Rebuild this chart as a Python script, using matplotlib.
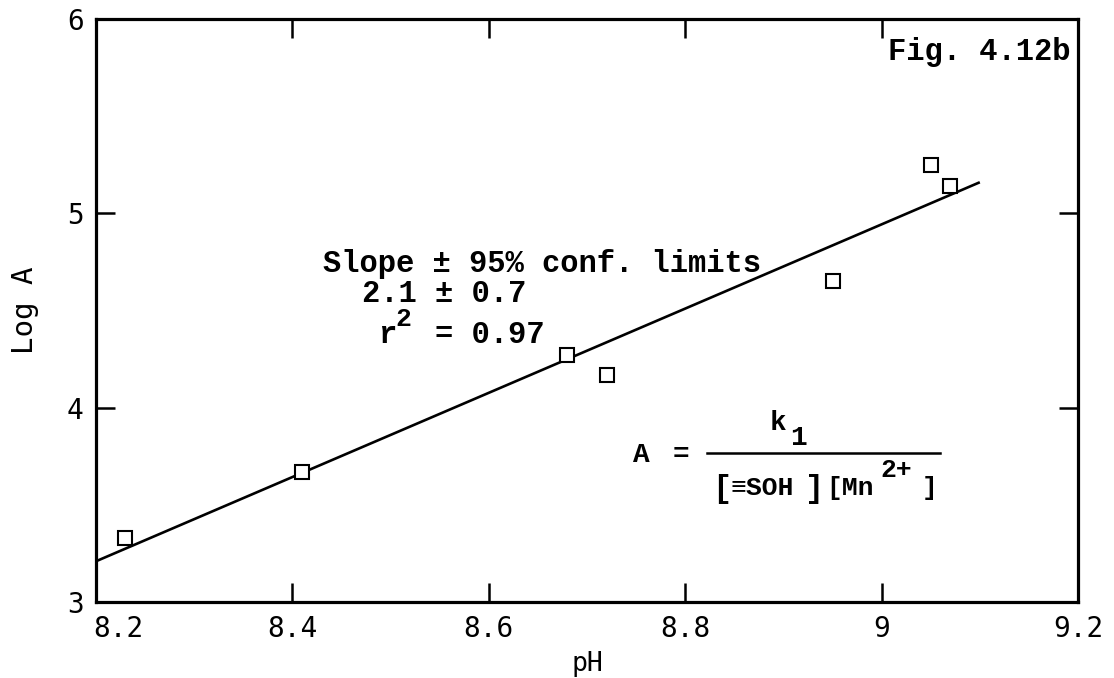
import matplotlib
matplotlib.use("Agg")
import matplotlib.pyplot as plt
from matplotlib.transforms import ScaledTranslation

# measured points
ph = [8.23, 8.41, 8.68, 8.72, 8.95, 9.05, 9.07]
log_a = [3.33, 3.67, 4.27, 4.17, 4.65, 5.25, 5.14]

# least squares line as drawn (end points)
fit_ph = [8.2, 9.1]
fit_log_a = [3.21, 5.16]

xticks = [8.2, 8.4, 8.6, 8.8, 9.0, 9.2]
xtick_labels = ["8.2", "8.4", "8.6", "8.8", "9", "9.2"]
yticks = [3, 4, 5, 6]
ytick_labels = ["3", "4", "5", "6"]

mono = ["Liberation Mono", "DejaVu Sans Mono"]
plot_font = "DejaVu Sans Mono"

fig = plt.figure(figsize=(11.14, 6.78), dpi=100)
ax = fig.add_axes([0.0862, 0.112, 0.8815, 0.860])

ax.plot(fit_ph, fit_log_a, color="black", lw=1.9, solid_capstyle="butt")
ax.plot(ph, log_a, ls="none", marker="s", ms=9.5, mfc="white", mec="black", mew=1.5)

ax.set_xlim(8.2, 9.2)
ax.set_ylim(3, 6)
ax.set_xticks(xticks)
ax.set_xticklabels(xtick_labels, fontfamily=plot_font, fontsize=20)
ax.set_yticks(yticks)
ax.set_yticklabels(ytick_labels, fontfamily=plot_font, fontsize=20)
ax.tick_params(direction="in", length=14, width=1.8, top=True, right=True)
ax.tick_params(axis="x", pad=9)
ax.tick_params(axis="y", pad=9)
for s in ax.spines.values():
    s.set_linewidth(2.3)

# push "8.2" off the corner so it clears the "3"
lab = ax.get_xticklabels()[0]
lab.set_transform(lab.get_transform() + ScaledTranslation(0.22, 0, fig.dpi_scale_trans))

ax.set_xlabel("pH", fontfamily=plot_font, fontsize=19, labelpad=6)
ax.set_ylabel("Log A", fontfamily=plot_font, fontsize=21, labelpad=20)

tr = ax.transAxes
ax.text(0.9919, 0.9297, "Fig. 4.12b", transform=tr, ha="right", va="baseline",
        family=mono, fontsize=22, fontweight="bold")

note = dict(transform=tr, va="baseline", family=mono, fontsize=22, fontweight="bold")
ax.text(0.2312, 0.5660, "Slope ± 95% conf. limits", **note)
ax.text(0.2709, 0.5146, "2.1 ± 0.7", **note)
ax.text(0.2872, 0.4443, "r", **note)
ax.text(0.3045, 0.4734, "2", transform=tr, va="baseline", family=mono,
        fontsize=19, fontweight="bold")
ax.text(0.3452, 0.4443, "= 0.97", **note)

# A = k1 / ([≡SOH][Mn2+])
eq = dict(transform=tr, va="baseline", family=mono, fontsize=20, fontweight="bold")
den = dict(transform=tr, va="baseline", family=mono, fontsize=19, fontweight="bold")
ax.text(0.5468, 0.2401, "A", **eq)
ax.text(0.5876, 0.2401, "=", **eq)
ax.plot([0.6222, 0.8595], [0.2556, 0.2556], transform=tr, color="black", lw=1.8)
ax.text(0.6864, 0.2950, "k", **eq)
ax.text(0.7067, 0.2693, "1", **eq)
ax.text(0.6273, 0.1801, "[", transform=tr, va="baseline", family=mono,
        fontsize=23, fontweight="bold")
ax.text(0.6456, 0.1835, "≡SOH", **den)
ax.text(0.7220, 0.1801, "]", transform=tr, va="baseline", family=mono,
        fontsize=23, fontweight="bold")
ax.text(0.7440, 0.1835, "[Mn", **den)
ax.text(0.7990, 0.2144, "2+", **den)
ax.text(0.8410, 0.1835, "]", **den)

fig.savefig("out.png", dpi=100)
